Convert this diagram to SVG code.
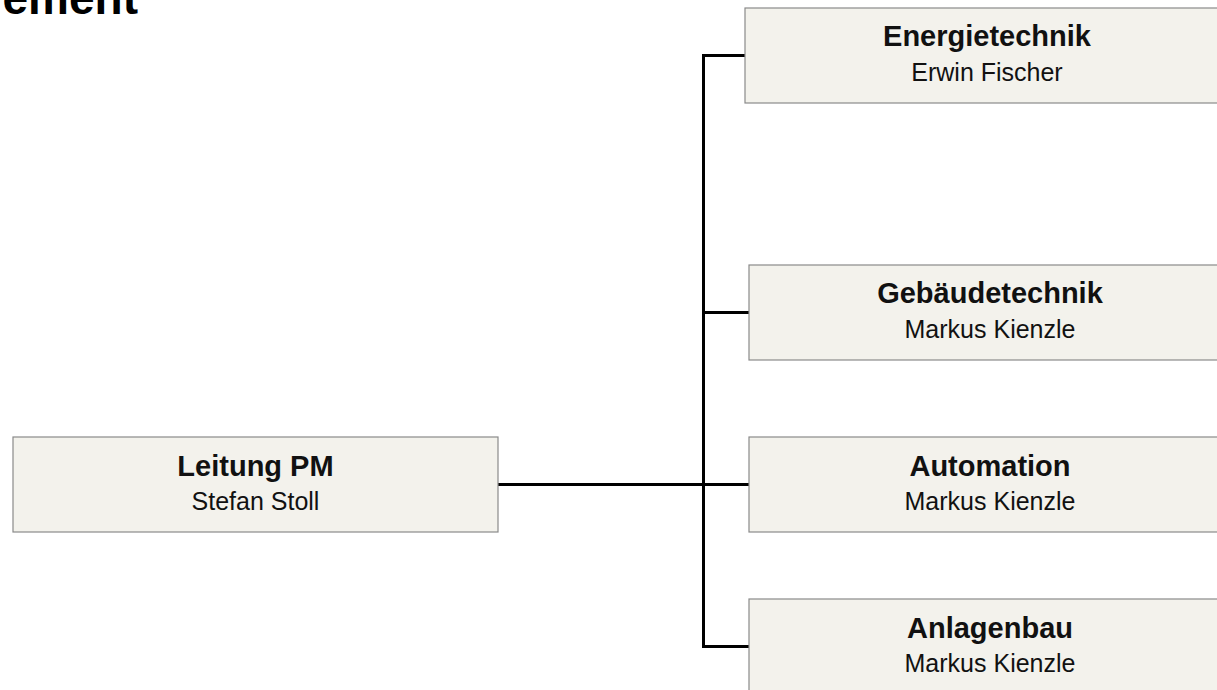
<svg xmlns="http://www.w3.org/2000/svg" width="1217" height="690" viewBox="0 0 1217 690">
<style>
.box{fill:#f3f2ec;stroke:#8a8a8a;stroke-width:1.2}
.t{font-family:"Liberation Sans",Arial,sans-serif;font-weight:bold;font-size:29px;fill:#111;text-anchor:middle}
.s{font-family:"Liberation Sans",Arial,sans-serif;font-size:25px;fill:#111;text-anchor:middle}
.conn{fill:none;stroke:#000;stroke-width:3}
</style>
<rect width="1217" height="690" fill="#fff"/>
<text x="138" y="14" font-family="Liberation Sans,Arial,sans-serif" font-weight="bold" font-size="46" fill="#000" text-anchor="end">ement</text>
<g id="connectors">
<path class="conn" d="M498 484.5H703.5M703.5 55.5V646.5M702 55.5H745M703.5 312.5H749M703.5 484.5H749M702 646.5H749"/>
</g>
<g id="leitung">
<rect class="box" x="13" y="437" width="485" height="95"/>
<text class="t" x="255.5" y="476">Leitung PM</text>
<text class="s" x="255.5" y="510">Stefan Stoll</text>
</g>
<g id="energietechnik">
<rect class="box" x="745" y="8" width="485" height="95"/>
<text class="t" x="987" y="46">Energietechnik</text>
<text class="s" x="987" y="81">Erwin Fischer</text>
</g>
<g id="gebaeudetechnik">
<rect class="box" x="749" y="265" width="482" height="95"/>
<text class="t" x="990" y="303">Gebäudetechnik</text>
<text class="s" x="990" y="338">Markus Kienzle</text>
</g>
<g id="automation">
<rect class="box" x="749" y="437" width="482" height="95"/>
<text class="t" x="990" y="476">Automation</text>
<text class="s" x="990" y="510">Markus Kienzle</text>
</g>
<g id="anlagenbau">
<rect class="box" x="749" y="599" width="482" height="95"/>
<text class="t" x="990" y="638">Anlagenbau</text>
<text class="s" x="990" y="672">Markus Kienzle</text>
</g>
</svg>
